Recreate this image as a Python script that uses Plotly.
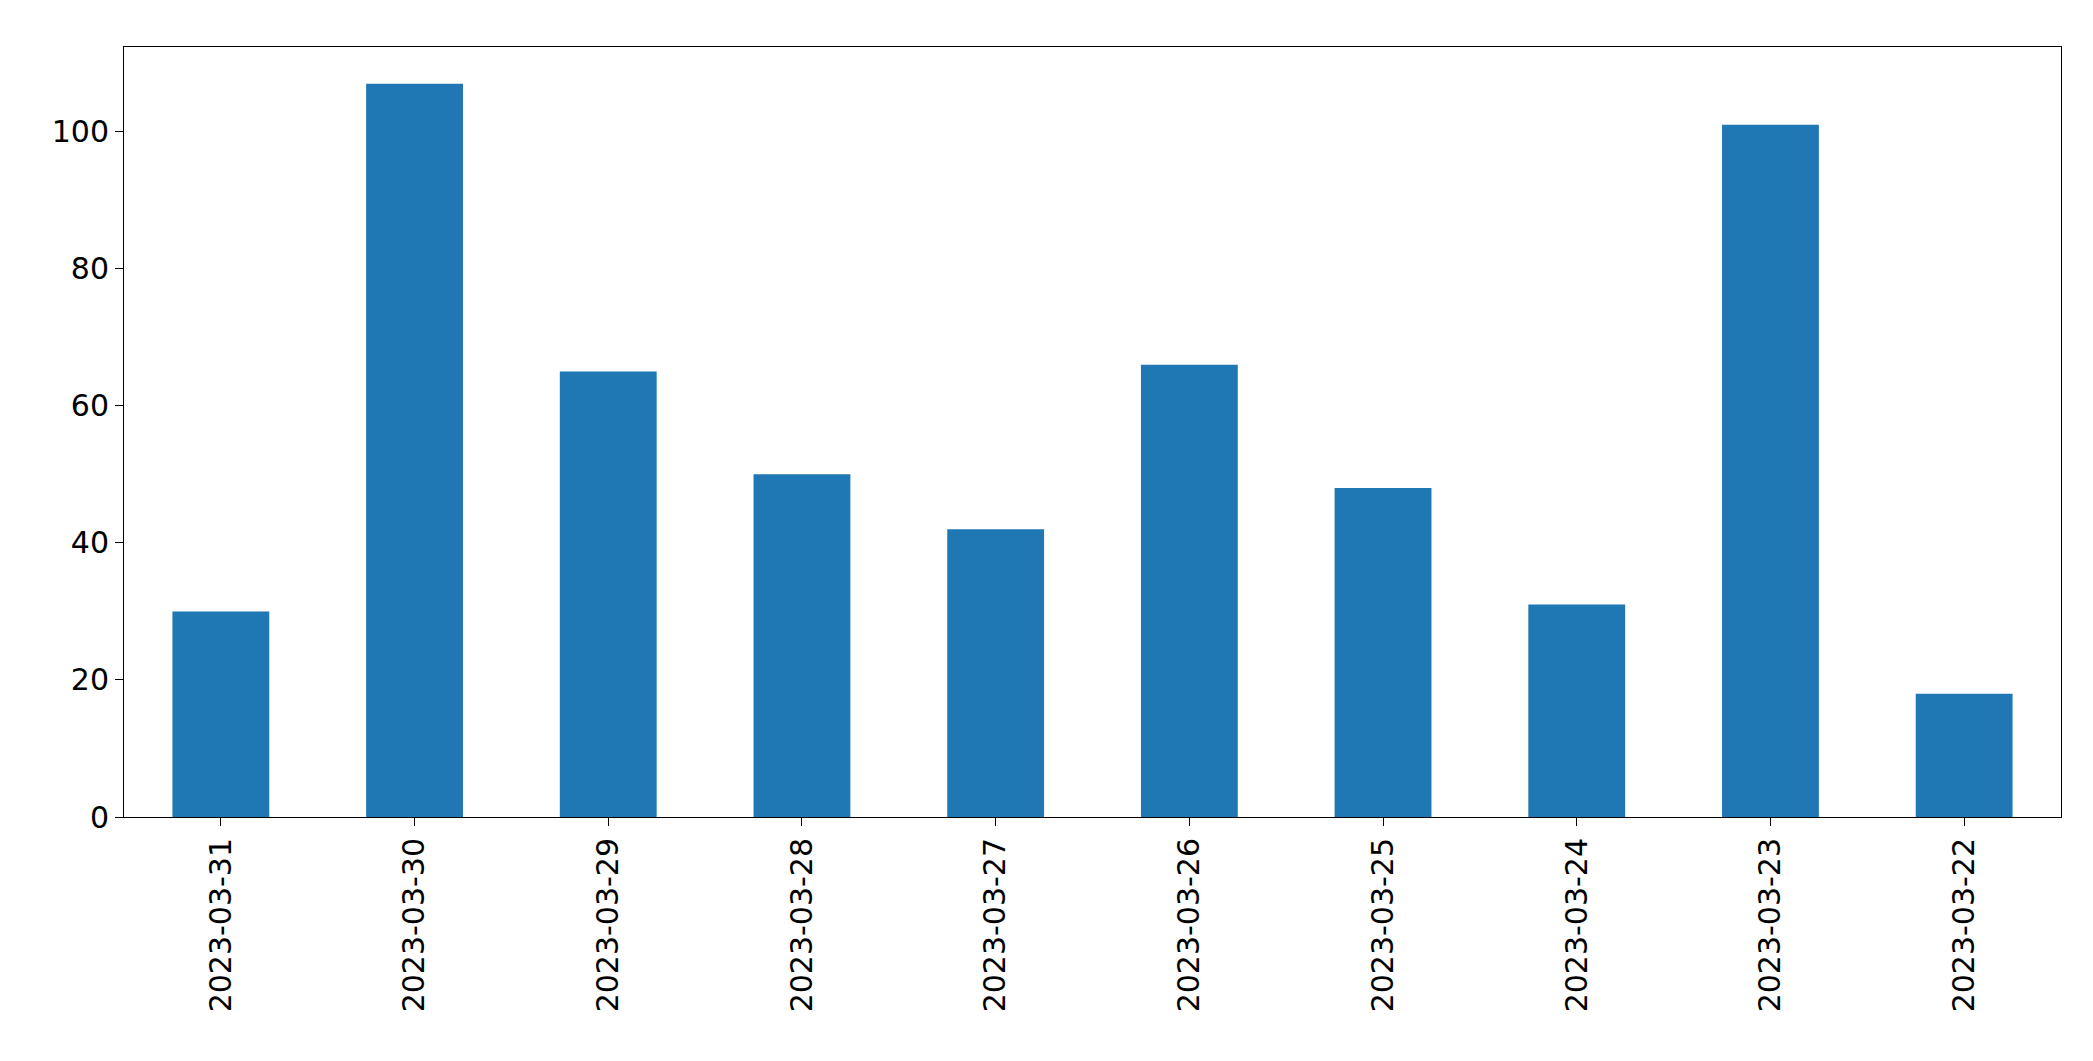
import plotly.graph_objects as go

dates = ["2023-03-31","2023-03-30","2023-03-29","2023-03-28","2023-03-27",
         "2023-03-26","2023-03-25","2023-03-24","2023-03-23","2023-03-22"]
counts = [30, 107, 65, 50, 42, 66, 48, 31, 101, 18]

fig = go.Figure(go.Bar(x=dates, y=counts, width=0.5, marker_color="#1f77b4",
                       marker_line_width=0))
fig.update_layout(
    width=2093, height=1061, plot_bgcolor="white", paper_bgcolor="white",
    margin=dict(l=116, r=40, t=39, b=252), showlegend=False,
    font=dict(family="DejaVu Sans", size=30, color="black"),
)
fig.update_xaxes(type="category", range=[-0.5, 9.5], tickangle=-90,
                 showline=True, linecolor="black", mirror=True, ticks="outside",
                 ticklen=8, tickcolor="black", showgrid=False)
fig.update_yaxes(range=[0, 112.35], tickvals=[0,20,40,60,80,100],
                 showline=True, linecolor="black", mirror=True, ticks="outside",
                 ticklen=8, tickcolor="black", showgrid=False, zeroline=False)
fig.write_html("out.html")
